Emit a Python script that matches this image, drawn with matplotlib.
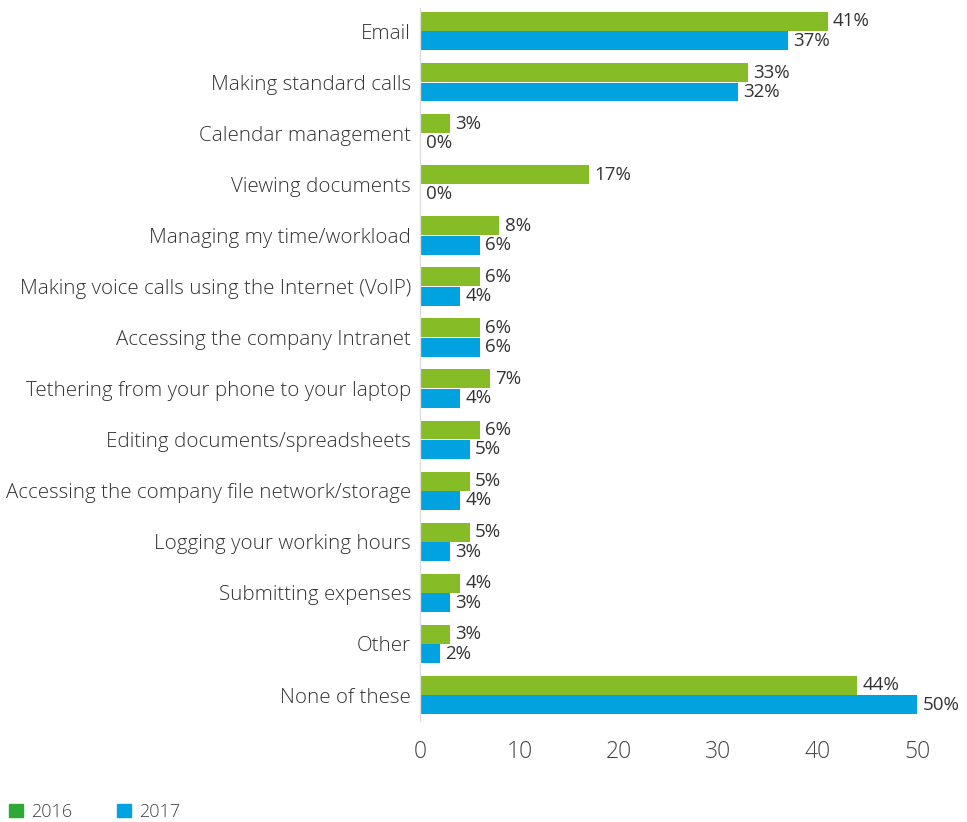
import matplotlib.pyplot as plt
import numpy as np

# Survey answers, top to bottom
categories = [
    "Email",
    "Making standard calls",
    "Calendar management",
    "Viewing documents",
    "Managing my time/workload",
    "Making voice calls using the Internet (VoIP)",
    "Accessing the company Intranet",
    "Tethering from your phone to your laptop",
    "Editing documents/spreadsheets",
    "Accessing the company file network/storage",
    "Logging your working hours",
    "Submitting expenses",
    "Other",
    "None of these",
]
values_2016 = [41, 33, 3, 17, 8, 6, 6, 7, 6, 5, 5, 4, 3, 44]
values_2017 = [37, 32, 0, 0, 6, 4, 6, 4, 5, 4, 3, 3, 2, 50]

green = "#86BC25"
blue = "#00A3E0"
text_col = "#333333"

plt.rcParams['font.family'] = ['Open Sans', 'DejaVu Sans']
plt.rcParams['font.weight'] = 'light'

fig = plt.figure(figsize=(9.67, 8.22), dpi=100)
ax = fig.add_axes([0.4343, 0.1234, 0.5140, 0.8666])

y = np.arange(len(categories))
h = 0.37
ax.barh(y - 0.19, values_2016, height=h, color=green, label="2016")
ax.barh(y + 0.19, values_2017, height=h, color=blue, label="2017")

# value labels next to each bar
for yi, v in zip(y, values_2016):
    ax.annotate(f"{v}%", (v, yi - 0.19), xytext=(4, 0), textcoords="offset points",
                va="center", ha="left", fontsize=13.5, fontweight="normal",
                color=text_col)
for yi, v in zip(y, values_2017):
    ax.annotate(f"{v}%", (v, yi + 0.19), xytext=(4, 0), textcoords="offset points",
                va="center", ha="left", fontsize=13.5, fontweight="normal",
                color=text_col)

ax.set_xlim(0, 50)
ax.set_ylim(13.5, -0.45)
ax.set_yticks(y)
ax.set_yticklabels(categories)
ax.set_xticks([0, 10, 20, 30, 40, 50])

ax.tick_params(axis="y", length=0, pad=6.5, labelsize=14.8, labelcolor=text_col)
ax.tick_params(axis="x", length=0, pad=14, labelsize=16.5, labelcolor="#444444")

for side in ["top", "right", "bottom"]:
    ax.spines[side].set_visible(False)
ax.spines["left"].set_color("#dddddd")
ax.spines["left"].set_linewidth(1)

# legend squares in the lower-left corner
leg = fig.legend(
    handles=[plt.Rectangle((0, 0), 1, 1, color="#2EA836"),
             plt.Rectangle((0, 0), 1, 1, color=blue)],
    labels=["2016", "2017"],
    loc="lower left", bbox_to_anchor=(-0.007, -0.018), ncol=2, frameon=False,
    handlelength=0.75, handleheight=0.75, handletextpad=0.45, columnspacing=2.5,
    fontsize=13,
)
for t in leg.get_texts():
    t.set_color("#444444")

fig.savefig("out.png", dpi=100)
